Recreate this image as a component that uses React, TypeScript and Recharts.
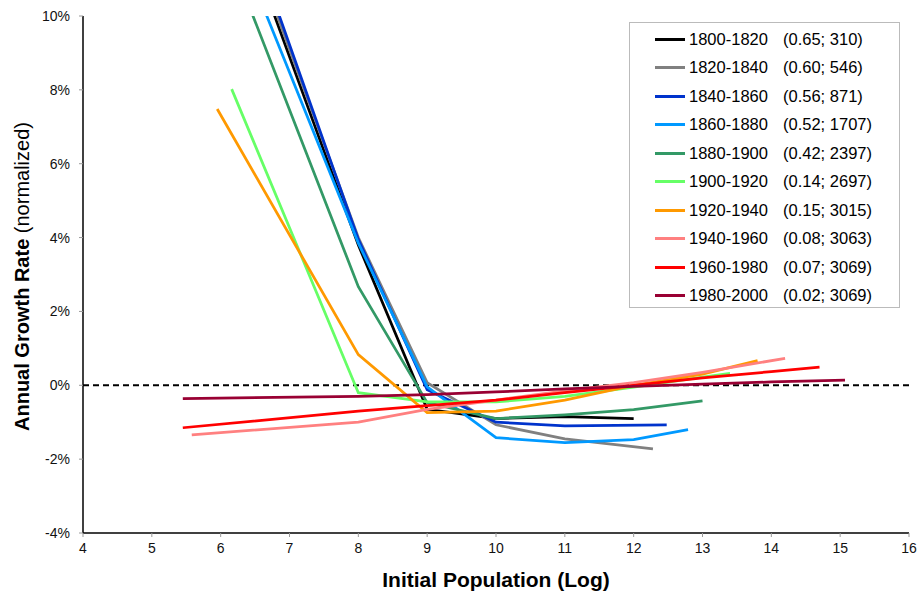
import React from 'react';
import { LineChart, Line, XAxis, YAxis, ReferenceLine } from 'recharts';

const FONT = '"Liberation Sans", Arial, sans-serif';

const periods = ['1800-1820', '1820-1840', '1840-1860', '1860-1880', '1880-1900', '1900-1920', '1920-1940', '1940-1960', '1960-1980', '1980-2000'];
const stats = ['(0.65; 310)', '(0.60; 546)', '(0.56; 871)', '(0.52; 1707)', '(0.42; 2397)', '(0.14; 2697)', '(0.15; 3015)', '(0.08; 3063)', '(0.07; 3069)', '(0.02; 3069)'];
const colors = ['#000000', '#808080', '#0033cc', '#0099ff', '#339966', '#66ff66', '#ff9900', '#ff8080', '#ff0000', '#990033'];

const x1800 = [6, 8, 9, 10, 11, 12];
const y1800 = [14.0, 3.8, -0.65, -0.9, -0.85, -0.9];
const x1820 = [6, 8, 9, 10, 11, 12.28];
const y1820 = [14.2, 4.0, 0.07, -1.07, -1.45, -1.72];
const x1840 = [6, 8, 9, 10, 11, 12.48];
const y1840 = [14.5, 3.95, -0.12, -1.0, -1.1, -1.07];
const x1860 = [6, 8, 9, 10, 11, 12, 12.79];
const y1860 = [13.1, 3.85, -0.04, -1.42, -1.55, -1.47, -1.2];
const x1880 = [6, 8, 9, 10, 11, 12, 13];
const y1880 = [12.25, 2.67, -0.47, -0.9, -0.8, -0.66, -0.42];
const x1900 = [6.16, 8, 9, 10, 11, 12, 13, 13.4];
const y1900 = [8.02, -0.2, -0.45, -0.45, -0.3, -0.05, 0.22, 0.32];
const x1920 = [5.95, 8, 9, 10, 11, 12, 13, 13.8];
const y1920 = [7.48, 0.83, -0.74, -0.7, -0.4, 0.0, 0.3, 0.67];
const x1940 = [5.58, 8, 9, 10, 11, 12, 13, 14.2];
const y1940 = [-1.34, -1.0, -0.65, -0.4, -0.15, 0.07, 0.35, 0.73];
const x1960 = [5.45, 8, 9, 10, 11, 12, 13, 14, 14.7];
const y1960 = [-1.15, -0.7, -0.55, -0.4, -0.2, 0.0, 0.2, 0.37, 0.49];
const x1980 = [5.45, 8, 9, 10, 11, 12, 13, 14, 15.07];
const y1980 = [-0.36, -0.3, -0.25, -0.18, -0.1, -0.03, 0.03, 0.09, 0.14];

const xTicks = [4, 5, 6, 7, 8, 9, 10, 11, 12, 13, 14, 15, 16];
const yTicks = [-4, -2, 0, 2, 4, 6, 8, 10];

const seriesX = [x1800, x1820, x1840, x1860, x1880, x1900, x1920, x1940, x1960, x1980];
const seriesY = [y1800, y1820, y1840, y1860, y1880, y1900, y1920, y1940, y1960, y1980];

const series = periods.map((p, i) => ({
  name: p,
  color: colors[i],
  data: seriesX[i].map((x, j) => ({ x, y: seriesY[i][j] })),
}));

const YLabel = (props: any) => {
  const vb = props.viewBox || { x: 0, y: 0, width: 0, height: 0 };
  const cx = vb.x + 22;
  const cy = vb.y + vb.height / 2 + 2;
  return (
    <text x={cx} y={cy} transform={`rotate(-90, ${cx}, ${cy})`} textAnchor="middle" dominantBaseline="central" fontFamily={FONT} fontSize={20} fill="#000">
      <tspan fontWeight="bold">Annual Growth Rate</tspan>
      <tspan> (normalized)</tspan>
    </text>
  );
};

const XLabel = (props: any) => {
  const vb = props.viewBox || { x: 0, y: 0, width: 0, height: 0 };
  return (
    <text x={vb.x + vb.width / 2} y={vb.y + 46} textAnchor="middle" dominantBaseline="central" fontFamily={FONT} fontSize={21} fontWeight="bold" fill="#000">
      Initial Population (Log)
    </text>
  );
};

export default function App() {
  return (
    <div style={{ position: 'absolute', left: 0, top: 0, width: 917, height: 594, background: '#fff' }}>
      <LineChart width={917} height={594} margin={{ top: 16, right: 8, bottom: 0, left: 0 }}>
        <XAxis
          type="number"
          dataKey="x"
          domain={[4, 16]}
          ticks={xTicks}
          allowDataOverflow
          height={61}
          axisLine={{ stroke: '#000', strokeWidth: 1.5 }}
          tickLine={{ stroke: '#999' }}
          tickSize={4}
          tickMargin={6}
          tick={{ fontFamily: FONT, fontSize: 14, fill: '#111' }}
          label={<XLabel />}
        />
        <XAxis xAxisId="top" orientation="top" type="number" domain={[4, 16]} height={0} tick={false} tickLine={false} axisLine={{ stroke: '#000', strokeWidth: 1.5 }} />
        <YAxis
          type="number"
          domain={[-4, 10]}
          ticks={yTicks}
          allowDataOverflow
          width={83}
          axisLine={{ stroke: '#000', strokeWidth: 1.5 }}
          tickLine={{ stroke: '#999' }}
          tickSize={4}
          tickMargin={9}
          tickFormatter={(v: number) => `${v}%`}
          tick={{ fontFamily: FONT, fontSize: 14, fill: '#111' }}
          label={<YLabel />}
        />
        <YAxis yAxisId="right" orientation="right" type="number" domain={[-4, 10]} width={0} tick={false} tickLine={false} axisLine={{ stroke: '#000', strokeWidth: 1.5 }} />
        <ReferenceLine y={0} stroke="#000" strokeWidth={2} strokeDasharray="6 4" />
        {series.map((s) => (
          <Line
            key={s.name}
            data={s.data}
            dataKey="y"
            type="linear"
            stroke={s.color}
            strokeWidth={2.75}
            dot={false}
            activeDot={false}
            isAnimationActive={false}
          />
        ))}
      </LineChart>
      <div
        style={{
          position: 'absolute',
          left: 629,
          top: 22,
          width: 271,
          height: 286,
          border: '1px solid #bbb',
          background: '#fff',
          fontFamily: FONT,
          fontSize: 16.5,
          color: '#000',
          boxSizing: 'border-box',
          paddingTop: 2,
        }}
      >
        {series.map((s, i) => (
          <div key={s.name} style={{ display: 'flex', alignItems: 'center', height: 28.5, whiteSpace: 'nowrap' }}>
            <div style={{ width: 30, height: 3, background: s.color, marginLeft: 25, marginRight: 4 }} />
            <span style={{ width: 94, display: 'inline-block' }}>{s.name}</span>
            <span>{stats[i]}</span>
          </div>
        ))}
      </div>
    </div>
  );
}
